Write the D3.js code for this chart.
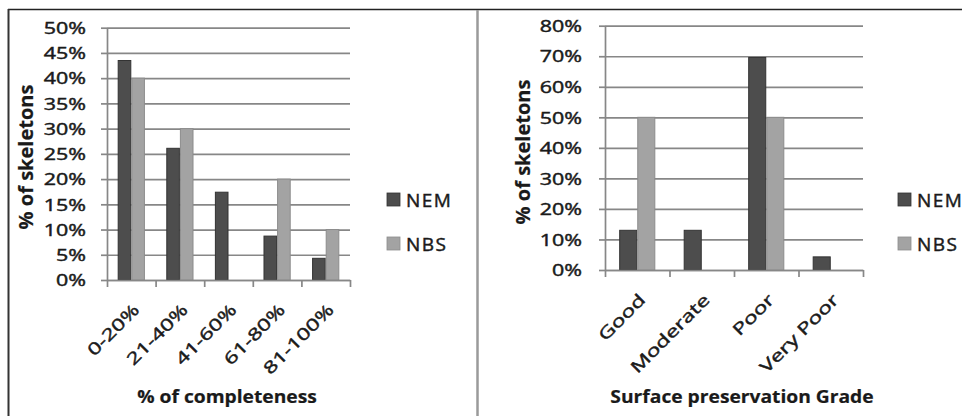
<!DOCTYPE html>
<html>
<head>
<meta charset="utf-8">
<script src="https://cdn.jsdelivr.net/npm/d3@7"></script>
<style>
  html, body { margin: 0; padding: 0; background: #fff; }
  svg { display: block; font-family: "Open Sans", "Noto Sans", sans-serif; }
</style>
</head>
<body>
<svg id="chart" width="962" height="416"></svg>
<script>
// Series shown in both panels
const seriesNames = ["NEM", "NBS"];

// Panel 1: % of completeness
const completenessCategories = ["0-20%", "21-40%", "41-60%", "61-80%", "81-100%"];
const completenessNEM = [43.5, 26.1, 17.4, 8.7, 4.3];
const completenessNBS = [40, 30, 0, 20, 10];
const completenessTicks = [0, 5, 10, 15, 20, 25, 30, 35, 40, 45, 50];

// Panel 2: surface preservation grade
const gradeCategories = ["Good", "Moderate", "Poor", "Very Poor"];
const gradeNEM = [13.0, 13.0, 69.6, 4.3];
const gradeNBS = [50, 0, 50, 0];
const gradeTicks = [0, 10, 20, 30, 40, 50, 60, 70, 80];

const svg = d3.select("#chart");
const FILL = { NEM: "#4d4d4d", NBS: "#a3a3a3" };
const EDGE = { NEM: "#333333", NBS: "#8c8c8c" };
const TEXT = "#1a1a1a";
const GRID = "#878787";
const TEXT_STROKE = 0.45;

svg.append("rect").attr("width", 962).attr("height", 416).attr("fill", "#fff");

// Figure frame: top rule, left rule and the divider between the panels
svg.append("line").attr("x1", 8).attr("x2", 962).attr("y1", 9.5).attr("y2", 9.5)
  .attr("stroke", "#222").attr("stroke-width", 1.6);
svg.append("line").attr("x1", 8.5).attr("x2", 8.5).attr("y1", 9).attr("y2", 416)
  .attr("stroke", "#333").attr("stroke-width", 2);
svg.append("line").attr("x1", 477.5).attr("x2", 477.5).attr("y1", 10).attr("y2", 416)
  .attr("stroke", "#9a9a9a").attr("stroke-width", 2.5);

function heavy(sel) {
  return sel.attr("fill", TEXT).attr("stroke", TEXT).attr("stroke-width", TEXT_STROKE)
    .attr("paint-order", "stroke");
}

function drawPanel(opt) {
  const { cats, nem, nbs, ticks, left, right, top, bottom, yMax } = opt;
  const g = svg.append("g");

  const y = d3.scaleLinear().domain([0, yMax]).range([bottom, top]);
  const edge = d3.scaleLinear().domain([0, cats.length]).range([left, right]);
  const x = d3.scaleBand().domain(cats).range([left, right])
    .paddingInner(0.44).paddingOuter(0.22);
  const xs = d3.scaleBand().domain(seriesNames).range([0, x.bandwidth()]);

  // horizontal gridlines
  g.append("g")
    .attr("transform", `translate(${left},0)`)
    .call(d3.axisLeft(y).tickValues(ticks).tickSize(-(right - left)).tickFormat(""))
    .call(a => a.select(".domain").remove())
    .call(a => a.selectAll(".tick line").attr("stroke", GRID).attr("stroke-width", 1.7));

  // bars
  const rows = cats.map((c, i) => ({
    cat: c,
    values: [{ s: "NEM", v: nem[i] }, { s: "NBS", v: nbs[i] }]
  }));
  g.append("g")
    .selectAll("g")
    .data(rows)
    .join("g")
    .attr("transform", d => `translate(${x(d.cat)},0)`)
    .selectAll("rect")
    .data(d => d.values.filter(e => e.v > 0))
    .join("rect")
    .attr("x", d => xs(d.s) + 0.5)
    .attr("width", xs.bandwidth() - 1)
    .attr("y", d => y(d.v))
    .attr("height", d => y(0) - y(d.v))
    .attr("fill", d => FILL[d.s])
    .attr("stroke", d => EDGE[d.s])
    .attr("stroke-width", 1);

  // value axis
  const ya = g.append("g")
    .attr("transform", `translate(${left},0)`)
    .call(d3.axisLeft(y).tickValues(ticks).tickSize(6).tickSizeOuter(0).tickFormat(d => d + "%"));
  ya.select(".domain").attr("stroke", GRID).attr("stroke-width", 1.7);
  ya.selectAll(".tick line").attr("stroke", GRID).attr("stroke-width", 1.7);
  ya.selectAll(".tick text")
    .attr("x", 0)
    .attr("dy", "0.36em")
    .attr("font-size", 16)
    .attr("font-family", "Open Sans")
    .attr("transform", `translate(${-opt.yLabelGap},0) scale(1.34,1)`)
    .call(heavy);

  // category axis: tick marks at the category boundaries
  const xa = g.append("g")
    .attr("transform", `translate(0,${bottom})`)
    .call(d3.axisBottom(edge).tickValues(d3.range(cats.length + 1)).tickSize(7).tickSizeOuter(0).tickFormat(""));
  xa.select(".domain").attr("stroke", GRID).attr("stroke-width", 1.7);
  xa.selectAll(".tick line").attr("stroke", GRID).attr("stroke-width", 1.7);

  // category labels, slanted
  const xl = g.append("g")
    .attr("transform", `translate(0,${bottom})`)
    .call(d3.axisBottom(x).tickSize(0).tickPadding(0));
  xl.select(".domain").remove();
  xl.selectAll(".tick text")
    .attr("y", 0).attr("dy", null)
    .attr("text-anchor", "end")
    .attr("font-size", 16.5)
    .attr("font-family", "Open Sans")
    .attr("transform", `translate(${opt.xLabelDx},${opt.xLabelDy}) rotate(-45) scale(1.38,1)`)
    .call(heavy);

  // axis titles
  g.append("text")
    .attr("transform", `translate(${opt.yTitleX},${opt.yTitleY}) rotate(-90)`)
    .attr("text-anchor", "middle")
    .attr("font-size", 20).attr("font-weight", 700)
    .text(opt.yTitle)
    .call(heavy).attr("stroke-width", 0.2);
  g.append("text")
    .attr("transform", `translate(${opt.xTitleX},${opt.xTitleY}) scale(1.1,1)`)
    .attr("text-anchor", "middle")
    .attr("font-size", 17.5).attr("font-weight", 700)
    .text(opt.xTitle)
    .call(heavy).attr("stroke-width", 0.2);

  // legend
  const lg = g.append("g").attr("transform", `translate(${opt.legendX},0)`);
  const item = lg.selectAll("g").data(seriesNames).join("g")
    .attr("transform", (d, i) => `translate(0,${193 + i * 44})`);
  item.append("rect").attr("width", 13).attr("height", 13)
    .attr("fill", d => FILL[d]).attr("stroke", d => EDGE[d]).attr("stroke-width", 0.8);
  item.append("text").attr("x", 19).attr("y", 13.5)
    .attr("font-size", 19).attr("letter-spacing", 1.5)
    .text(d => d)
    .call(heavy);
}

drawPanel({
  cats: completenessCategories, nem: completenessNEM, nbs: completenessNBS,
  ticks: completenessTicks, yMax: 50,
  left: 107, right: 350, top: 27.7, bottom: 280,
  yLabelGap: 21, xLabelDx: 9, xLabelDy: 31,
  yTitle: "% of skeletons", yTitleX: 33, yTitleY: 157,
  xTitle: "% of completeness", xTitleX: 227, xTitleY: 403,
  legendX: 387
});

drawPanel({
  cats: gradeCategories, nem: gradeNEM, nbs: gradeNBS,
  ticks: gradeTicks, yMax: 80,
  left: 605, right: 863, top: 25.7, bottom: 270,
  yLabelGap: 23, xLabelDx: 9, xLabelDy: 31,
  yTitle: "% of skeletons", yTitleX: 530, yTitleY: 152,
  xTitle: "Surface preservation Grade", xTitleX: 742, xTitleY: 403,
  legendX: 898
});
</script>
</body>
</html>
